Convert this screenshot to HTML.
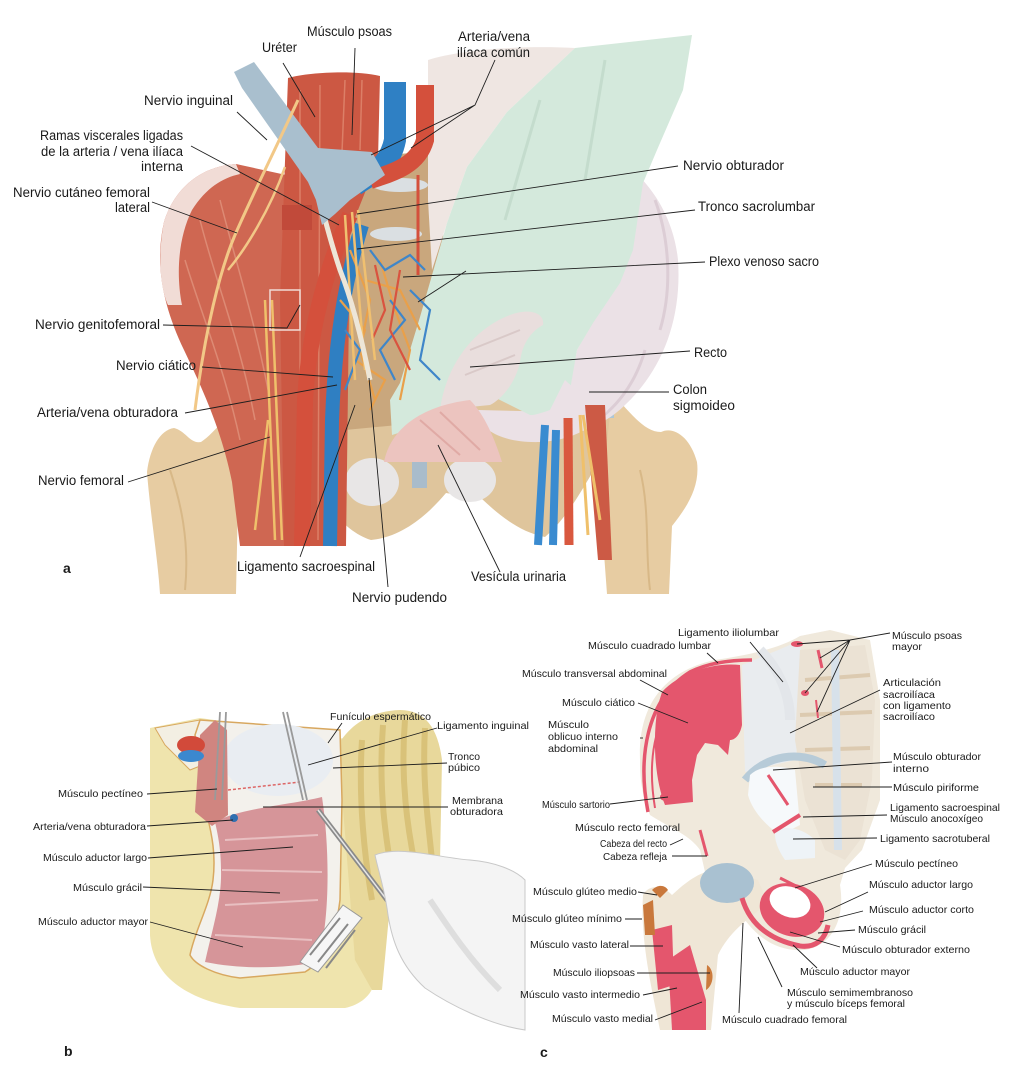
<!DOCTYPE html>
<html><head><meta charset="utf-8">
<style>
html,body{margin:0;padding:0;background:#fff;}
svg{display:block;}
text{font-family:"Liberation Sans",sans-serif;fill:#1a1a1a;}
.a{font-size:13.5px;}
.s{font-size:10.5px;}
.L{stroke:#1e1e1e;stroke-width:0.9;fill:none;}
</style></head><body>
<svg width="1024" height="1092" viewBox="0 0 1024 1092" xmlns="http://www.w3.org/2000/svg">
<rect width="1024" height="1092" fill="#fff"/>

<!-- ================= PANEL A ================= -->
<g>
<!-- femurs -->
<path d="M147,472 C150,448 160,430 174,428 C186,431 190,444 201,442 C216,432 228,412 246,400 L266,426 C252,446 241,470 238,500 L236,594 L160,594 C158,560 150,512 147,472 Z" fill="#e7cca2"/>
<path d="M598,425 L622,404 C636,420 648,432 661,432 C673,426 690,436 697,462 C700,486 688,506 672,526 L669,594 L607,594 L603,540 C600,500 594,460 598,425 Z" fill="#e7cca2"/>
<path d="M170,470 C180,500 190,540 185,590" stroke="#d8b887" stroke-width="2" fill="none"/>
<path d="M640,470 C650,510 645,550 650,590" stroke="#d8b887" stroke-width="2" fill="none"/>
<!-- pelvis -->
<path d="M300,392 L612,395 L606,452 C590,472 574,512 545,537 C520,532 500,516 482,499 L446,493 C430,512 404,537 371,540 C345,532 320,502 305,462 Z" fill="#dfc59c"/>
<ellipse cx="372" cy="482" rx="27" ry="24" fill="#e8e6e6"/>
<ellipse cx="470" cy="480" rx="26" ry="22" fill="#e8e6e6"/>
<rect x="412" y="458" width="15" height="30" fill="#a9bccb"/>
<!-- sacrum region -->
<path d="M340,160 L440,150 L450,420 L345,430 Z" fill="#c9a77d"/>
<ellipse cx="400" cy="185" rx="28" ry="7" fill="#dadfe2"/>
<ellipse cx="396" cy="234" rx="26" ry="7" fill="#dadfe2"/>
<!-- capsules -->
<rect x="228" y="392" width="18" height="16" fill="#aec7d6"/>
<rect x="597" y="398" width="17" height="20" fill="#aec7d6"/>
<!-- left iliacus -->
<path d="M236,164 C205,166 176,184 164,222 C154,266 164,308 184,350 C204,392 222,432 232,482 L240,546 L300,546 L300,178 Z" fill="#cf6752"/>
<path d="M236,164 C205,166 176,184 164,222 C157,258 161,290 168,305 L182,305 C176,275 178,238 192,210 C206,188 222,178 240,174 Z" fill="#f1dcd6"/>
<path d="M200,220 C215,280 240,340 255,420 M220,200 C235,260 255,320 270,400 M185,260 C200,310 225,370 240,440" stroke="#dd8a74" stroke-width="1.5" fill="none"/>
<!-- psoas -->
<path d="M288,78 C310,72 355,70 380,76 L378,160 L350,230 L346,546 L284,546 L280,300 Z" fill="#cc5843"/>
<path d="M300,90 L300,540 M320,85 L318,540 M345,80 L340,200 M362,80 L360,150" stroke="#dc7f67" stroke-width="1.5" fill="none"/>
<!-- whitish tissue top -->
<path d="M428,60 C460,50 520,45 575,48 L507,112 L467,167 L447,223 L432,270 L428,200 Z" fill="#efe6e2"/>
<!-- colon (back part) -->
<path d="M600,150 C630,160 672,200 678,260 C682,320 662,370 625,405 C600,430 560,442 520,440 C495,438 480,425 478,410 L565,412 L577,350 L600,310 L625,270 L635,220 Z" fill="#ebe1e6"/>
<path d="M655,200 C670,240 672,290 660,330 M645,350 C635,385 615,410 590,425" stroke="#dccdd5" stroke-width="3" fill="none"/>
<!-- glove -->
<path d="M507,112 L575,48 L692,35 L683,90 L657,150 L643,183 L633,250 L620,283 L593,323 L577,350 L570,390 L565,415 L530,415 L490,395 L470,410 L440,420 L392,435 L390,400 L400,383 L420,317 L447,223 L467,167 Z" fill="#d4e9dc"/>
<path d="M605,60 L585,180 M540,100 L505,220" stroke="#c4dccd" stroke-width="3" fill="none"/>
<!-- rectum -->
<path d="M440,410 C445,370 470,330 510,315 C528,308 545,312 543,325 C530,332 522,345 520,362 C515,385 500,400 490,405 Z" fill="#e9dedd"/>
<path d="M470,350 L520,330 M465,375 L515,355" stroke="#d9c9c8" stroke-width="2" fill="none"/>
<!-- colon bottom curl -->
<path d="M565,380 C580,395 600,400 615,398 C605,420 580,440 540,442 C505,443 485,432 478,418 C500,420 530,418 550,410 Z" fill="#ebe1e6"/>
<!-- bladder -->
<path d="M384,462 C390,430 420,406 470,400 C485,415 495,440 502,462 Z" fill="#ecc4bf"/>
<path d="M420,420 L460,455 M440,412 L480,450" stroke="#e0aaa5" stroke-width="2" fill="none"/>
<!-- vessels left -->
<path d="M350,215 C330,260 310,320 305,400 L302,546" stroke="#d4503c" stroke-width="16" fill="none"/>
<path d="M362,225 C345,280 335,340 332,420 L330,546" stroke="#2f7fc2" stroke-width="14" fill="none"/>
<path d="M395,82 L395,140 C390,165 375,172 355,185" stroke="#2f80c4" stroke-width="22" fill="none"/>
<path d="M425,85 L425,140 C418,165 395,172 370,180" stroke="#d4503c" stroke-width="18" fill="none"/>
<path d="M418,175 L418,275" stroke="#d4503c" stroke-width="3" fill="none"/>
<!-- network -->
<g fill="none" stroke-width="2.2">
<path d="M350,250 L370,300 L360,350 L375,400 M380,260 L395,310 L410,350 L400,400 M365,280 L400,290 L420,330 M340,300 L365,330 L350,380 M355,360 L385,380 L370,410" stroke="#e9a04a"/>
<path d="M370,250 L385,270 L410,255 L425,270 M390,300 L405,320 L380,350 L395,380 M410,290 L430,310 L420,360 L440,380 M345,330 L360,350 L345,390" stroke="#3f86c9"/>
<path d="M375,265 L385,310 L372,340 M400,270 L390,330 L410,370" stroke="#d9533f"/>
</g>
<path d="M345,215 L355,380 M352,212 L365,370 M358,210 L375,360" stroke="#f0c070" stroke-width="2.5" fill="none"/>
<path d="M312,167 C322,210 330,240 340,270 C352,300 362,340 370,380" stroke="#ede6d8" stroke-width="5" fill="none"/>
<!-- retractor -->
<path d="M234,72 L254,62 L318,148 L372,152 L385,175 L350,200 L335,214 L322,225 L316,200 L308,182 L242,88 Z" fill="#a9bfce"/>
<!-- nerves -->
<path d="M298,100 C275,150 250,200 235,235 C220,270 205,330 195,410" stroke="#f2c887" stroke-width="3" fill="none"/>
<path d="M285,167 C270,210 245,250 228,270" stroke="#f2c887" stroke-width="2.5" fill="none"/>
<path d="M265,300 L275,540 M272,300 L282,540 M268,420 L255,530" stroke="#efc06b" stroke-width="2.5" fill="none"/>
<!-- right side vessels -->
<path d="M585,405 L605,405 L612,560 L598,560 Z" fill="#cc5a45"/>
<path d="M545,425 L538,545 M556,430 L553,545" stroke="#3a8bd0" stroke-width="8" fill="none"/>
<path d="M568,418 L569,545" stroke="#d9583f" stroke-width="9" fill="none"/>
<path d="M580,415 L588,535 M583,415 L600,520" stroke="#efc06b" stroke-width="3" fill="none"/>
<rect x="270" y="290" width="30" height="40" fill="none" stroke="#f1dcd6" stroke-width="1.5"/>
<rect x="282" y="205" width="30" height="25" fill="#c14a3a"/>
</g>

<!-- panel a leaders -->
<g class="L">
<path d="M283,63 L315,117"/>
<path d="M355,48 L352,135"/>
<path d="M495,60 L475,105 L371,155 M475,105 L411,148"/>
<path d="M237,112 L267,140"/>
<path d="M191,146 L339,225"/>
<path d="M152,202 L237,233"/>
<path d="M678,166 L357,214"/>
<path d="M695,210 L357,249"/>
<path d="M705,262 L403,277 M466,271 L418,302"/>
<path d="M163,325 L287,328 L300,305"/>
<path d="M202,367 L333,377"/>
<path d="M185,413 L337,385"/>
<path d="M128,482 L270,437"/>
<path d="M300,557 L355,405"/>
<path d="M388,587 L369,378"/>
<path d="M500,572 L438,445"/>
<path d="M690,351 L470,367"/>
<path d="M669,392 L589,392"/>
</g>
<g class="a">
<text x="307" y="36" textLength="85" lengthAdjust="spacingAndGlyphs">Músculo psoas</text>
<text x="262" y="52" textLength="35" lengthAdjust="spacingAndGlyphs">Uréter</text>
<text x="458" y="41" textLength="72" lengthAdjust="spacingAndGlyphs">Arteria/vena</text>
<text x="457" y="57" textLength="73" lengthAdjust="spacingAndGlyphs">ilíaca común</text>
<text x="144" y="105" textLength="89" lengthAdjust="spacingAndGlyphs">Nervio inguinal</text>
<text x="40" y="140" textLength="143" lengthAdjust="spacingAndGlyphs">Ramas viscerales ligadas</text>
<text x="41" y="156" textLength="142" lengthAdjust="spacingAndGlyphs">de la arteria / vena ilíaca</text>
<text x="141" y="171" textLength="42" lengthAdjust="spacingAndGlyphs">interna</text>
<text x="13" y="197" textLength="137" lengthAdjust="spacingAndGlyphs">Nervio cutáneo femoral</text>
<text x="115" y="212" textLength="35" lengthAdjust="spacingAndGlyphs">lateral</text>
<text x="683" y="170" textLength="101" lengthAdjust="spacingAndGlyphs">Nervio obturador</text>
<text x="698" y="211" textLength="117" lengthAdjust="spacingAndGlyphs">Tronco sacrolumbar</text>
<text x="709" y="266" textLength="110" lengthAdjust="spacingAndGlyphs">Plexo venoso sacro</text>
<text x="35" y="329" textLength="125" lengthAdjust="spacingAndGlyphs">Nervio genitofemoral</text>
<text x="116" y="370" textLength="80" lengthAdjust="spacingAndGlyphs">Nervio ciático</text>
<text x="37" y="417" textLength="141" lengthAdjust="spacingAndGlyphs">Arteria/vena obturadora</text>
<text x="38" y="485" textLength="86" lengthAdjust="spacingAndGlyphs">Nervio femoral</text>
<text x="237" y="571" textLength="138" lengthAdjust="spacingAndGlyphs">Ligamento sacroespinal</text>
<text x="352" y="602" textLength="95" lengthAdjust="spacingAndGlyphs">Nervio pudendo</text>
<text x="471" y="581" textLength="95" lengthAdjust="spacingAndGlyphs">Vesícula urinaria</text>
<text x="694" y="357" textLength="33" lengthAdjust="spacingAndGlyphs">Recto</text>
<text x="673" y="394" textLength="34" lengthAdjust="spacingAndGlyphs">Colon</text>
<text x="673" y="410" textLength="62" lengthAdjust="spacingAndGlyphs">sigmoideo</text>
</g>
<text x="63" y="573" style="font-size:14px;font-weight:bold">a</text>

<!-- ================= PANEL B ================= -->
<g>
<path d="M150,728 L150,935 C152,975 185,1000 240,1008 L345,1008 C360,1005 372,995 374,983 L372,745 L340,738 L250,725 L200,718 Z" fill="#efe4ad"/>
<path d="M338,745 C350,725 370,711 400,710 C425,710 438,728 442,760 L440,862 L415,870 L390,905 L382,990 L372,990 L355,960 Z" fill="#e8d89b"/>
<path d="M362,740 C358,800 365,860 372,900 M383,725 C378,790 386,840 393,880 M405,720 C400,780 408,830 415,865 M425,728 C422,780 428,820 432,860" stroke="#d9c279" stroke-width="6" fill="none"/>
<path d="M155,728 L200,720 L210,735 L215,760 L190,770 L165,745 Z" fill="#f3efe3" stroke="#d8a860"/>
<path d="M200,720 L340,730 L342,800 L340,900 C335,940 325,960 305,972 L240,978 C215,975 195,965 190,955 C195,930 210,905 213,880 C216,855 212,835 207,815 L195,735 Z" fill="#f3f1ec" stroke="#d8a860" stroke-width="1.5"/>
<ellipse cx="278" cy="760" rx="55" ry="36" fill="#e9edf2"/>
<path d="M215,822 C240,808 290,805 322,797 C330,850 330,920 318,962 C285,968 245,970 205,962 C212,930 222,900 221,870 C221,850 218,835 215,822 Z" fill="#d69599"/>
<path d="M225,840 L318,835 M222,870 L322,872 M225,905 L318,900 M215,935 L312,940" stroke="#e8bfc1" stroke-width="2" fill="none"/>
<path d="M228,790 L300,782" stroke="#d66" stroke-width="1.5" stroke-dasharray="3,2" fill="none"/>
<path d="M195,812 L200,735 L215,720 L227,730 L228,815 L212,826 Z" fill="#d08580"/>
<ellipse cx="191" cy="745" rx="14" ry="9" fill="#d24a3a"/>
<ellipse cx="191" cy="756" rx="13" ry="6" fill="#3b88cf"/>
<circle cx="234" cy="818" r="4" fill="#2f6fb0"/>
<path d="M220,712 L215,800 M226,712 L222,800 M283,712 L303,800 M287,712 L307,800" stroke="#9a9a9a" stroke-width="1.8" fill="none"/>
<path d="M318,810 L400,917" stroke="#8a8a8a" stroke-width="5" fill="none"/>
<path d="M318,810 L400,917" stroke="#e6e6e6" stroke-width="1.5" fill="none"/>
<path d="M375,855 C400,845 440,858 470,860 C495,862 515,870 525,880 L525,1030 C490,1025 450,1005 425,988 C400,965 392,940 388,915 C385,890 378,870 375,855 Z" fill="#f4f4f4" stroke="#c8c8c8"/>
<path d="M430,900 C450,930 470,960 500,990" stroke="#dedede" stroke-width="6" fill="none"/>
<path d="M300,962 L343,905 L362,918 L318,972 Z" fill="#f6f6f6" stroke="#999"/>
<path d="M310,955 L340,918 M318,962 L348,924 M326,968 L355,930" stroke="#888" stroke-width="2"/>
</g>
<g class="L">
<path d="M342,723 L328,743"/>
<path d="M437,728 L308,765"/>
<path d="M447,763 L333,768"/>
<path d="M448,807 L263,807"/>
<path d="M147,794 L217,789"/>
<path d="M147,826 L233,820"/>
<path d="M148,858 L293,847"/>
<path d="M143,887 L280,893"/>
<path d="M150,922 L243,947"/>
</g>
<g class="s">
<text x="330" y="720" textLength="101" lengthAdjust="spacingAndGlyphs">Funículo espermático</text>
<text x="437" y="729" textLength="92" lengthAdjust="spacingAndGlyphs">Ligamento inguinal</text>
<text x="448" y="760" textLength="32" lengthAdjust="spacingAndGlyphs">Tronco</text>
<text x="448" y="771" textLength="32" lengthAdjust="spacingAndGlyphs">púbico</text>
<text x="452" y="804" textLength="51" lengthAdjust="spacingAndGlyphs">Membrana</text>
<text x="450" y="815" textLength="53" lengthAdjust="spacingAndGlyphs">obturadora</text>
<text x="58" y="797" textLength="85" lengthAdjust="spacingAndGlyphs">Músculo pectíneo</text>
<text x="33" y="830" textLength="113" lengthAdjust="spacingAndGlyphs">Arteria/vena obturadora</text>
<text x="43" y="861" textLength="104" lengthAdjust="spacingAndGlyphs">Músculo aductor largo</text>
<text x="73" y="891" textLength="69" lengthAdjust="spacingAndGlyphs">Músculo grácil</text>
<text x="38" y="925" textLength="110" lengthAdjust="spacingAndGlyphs">Músculo aductor mayor</text>
</g>
<text x="64" y="1056" style="font-size:14px;font-weight:bold">b</text>

<!-- ================= PANEL C ================= -->
<g>
<path d="M640,760 C638,710 660,672 715,660 C750,655 780,648 800,636 L830,630 L870,640 L880,700 L880,800 L862,850 L845,868 L840,885 C845,915 835,945 805,950 C780,952 760,940 745,920 C735,905 720,885 705,872 L700,850 C690,835 670,828 650,815 C642,795 640,780 640,760 Z" fill="#f0e9dc"/>
<path d="M742,665 C765,655 785,648 800,640 L805,700 L795,760 L745,772 Z" fill="#e9ecef"/>
<path d="M800,650 L865,645 L875,700 L872,780 L860,840 L845,860 L825,850 L805,800 L795,740 Z" fill="#ebe2d4"/>
<path d="M805,680 L870,675 M800,715 L872,712 M805,750 L870,748 M815,785 L862,785" stroke="#dccab0" stroke-width="4" fill="none"/>
<path d="M835,650 L838,850" stroke="#d7e1ea" stroke-width="8" fill="none"/>
<path d="M745,780 C765,755 800,750 825,765" stroke="#b7cbd8" stroke-width="8" fill="none"/>
<path d="M750,775 C760,765 780,765 795,770 L800,825 L780,835 C765,825 752,810 748,795 Z" fill="#f6f9fb"/>
<path d="M775,830 C790,825 805,830 815,840 L815,858 L785,860 C778,850 774,840 775,830 Z" fill="#eef3f7"/>
<path d="M760,650 C775,665 790,690 790,720" stroke="#e3e6ea" stroke-width="10" fill="none"/>
<path d="M662,692 C680,672 715,662 740,665 L742,725 C740,735 735,740 730,740 L728,755 L718,745 L705,743 L697,755 L692,780 L693,802 L665,805 C655,780 652,740 658,705 Z" fill="#e4566d"/>
<path d="M648,812 C638,760 645,700 690,672 C710,662 735,660 752,660" stroke="#e4566d" stroke-width="3.5" fill="none"/>
<path d="M655,808 C647,760 653,708 694,680" stroke="#e4566d" stroke-width="2" fill="none"/>
<ellipse cx="666" cy="797" rx="6" ry="4" fill="#e4566d"/>
<path d="M700,830 L707,856" stroke="#e4566d" stroke-width="3" fill="none"/>
<path d="M643,895 C648,885 662,884 672,895 C688,880 705,868 722,870 L758,880 L768,903 C750,918 730,930 718,955 L711,1030 L660,1030 C652,990 640,940 643,895 Z" fill="#efe6d6"/>
<ellipse cx="727" cy="883" rx="27" ry="20" fill="#a9c1d1"/>
<path d="M652,930 L672,925 L674,985 L658,990 Z" fill="#e4566d"/>
<path d="M668,960 L690,945 L706,1000 L706,1030 L672,1030 Z" fill="#e4566d"/>
<path d="M643,905 L653,900 L655,935 L645,935 Z" fill="#c9783c"/>
<path d="M652,890 C658,884 665,885 668,890 L660,898 Z" fill="#c9783c"/>
<path d="M707,965 C715,970 714,985 706,990 Z" fill="#cc7b3d"/>
<ellipse cx="792" cy="910" rx="33" ry="26" fill="#e4566d" transform="rotate(20 792 910)"/>
<ellipse cx="790" cy="902" rx="21" ry="15" fill="#fff" transform="rotate(20 790 902)"/>
<path d="M742,898 C750,925 770,940 800,946 C815,948 825,940 828,925" stroke="#e4566d" stroke-width="5" fill="none"/>
<path d="M780,878 L800,888" stroke="#e4566d" stroke-width="3" fill="none"/>
<path d="M768,775 L788,805" stroke="#e4566d" stroke-width="3" fill="none"/>
<path d="M773,832 L800,815" stroke="#e4566d" stroke-width="4" fill="none"/>
<ellipse cx="797" cy="644" rx="6" ry="3" fill="#e4566d"/>
<path d="M818,650 L822,668" stroke="#e4566d" stroke-width="3"/>
<ellipse cx="805" cy="693" rx="4" ry="3" fill="#e4566d"/>
<path d="M816,700 L818,718" stroke="#e4566d" stroke-width="2"/>
</g>
<g class="L">
<path d="M750,642 L783,682"/>
<path d="M707,653 L718,663"/>
<path d="M640,680 L668,695"/>
<path d="M638,703 L688,723"/>
<path d="M640,738 L643,738"/>
<path d="M890,633 L850,640 L797,644 M850,640 L820,658 M850,640 L805,693 M850,640 L817,712"/>
<path d="M880,690 L790,733"/>
<path d="M892,762 L773,770"/>
<path d="M892,787 L813,787"/>
<path d="M887,815 L803,817"/>
<path d="M877,838 L793,839"/>
<path d="M610,804 L668,797"/>
<path d="M670,845 L683,839"/>
<path d="M672,856 L707,856"/>
<path d="M872,864 L795,888"/>
<path d="M868,892 L825,912"/>
<path d="M863,911 L820,922"/>
<path d="M855,930 L818,933"/>
<path d="M840,947 L790,932"/>
<path d="M817,968 L793,945"/>
<path d="M782,987 L758,937"/>
<path d="M739,1013 L743,923"/>
<path d="M638,892 L657,895"/>
<path d="M625,919 L642,919"/>
<path d="M630,946 L663,946"/>
<path d="M637,973 L710,973"/>
<path d="M643,995 L677,988"/>
<path d="M655,1020 L702,1002"/>
</g>
<g class="s">
<text x="678" y="636" textLength="101" lengthAdjust="spacingAndGlyphs">Ligamento iliolumbar</text>
<text x="588" y="649" textLength="123" lengthAdjust="spacingAndGlyphs">Músculo cuadrado lumbar</text>
<text x="522" y="677" textLength="145" lengthAdjust="spacingAndGlyphs">Músculo transversal abdominal</text>
<text x="562" y="706" textLength="73" lengthAdjust="spacingAndGlyphs">Músculo ciático</text>
<text x="548" y="728" textLength="41" lengthAdjust="spacingAndGlyphs">Músculo</text>
<text x="548" y="740" textLength="70" lengthAdjust="spacingAndGlyphs">oblicuo interno</text>
<text x="548" y="752" textLength="50" lengthAdjust="spacingAndGlyphs">abdominal</text>
<text x="892" y="639" textLength="70" lengthAdjust="spacingAndGlyphs">Músculo psoas</text>
<text x="892" y="650" textLength="30" lengthAdjust="spacingAndGlyphs">mayor</text>
<text x="883" y="686" textLength="58" lengthAdjust="spacingAndGlyphs">Articulación</text>
<text x="883" y="698" textLength="52" lengthAdjust="spacingAndGlyphs">sacroilíaca</text>
<text x="883" y="709" textLength="68" lengthAdjust="spacingAndGlyphs">con ligamento</text>
<text x="883" y="720" textLength="52" lengthAdjust="spacingAndGlyphs">sacroilíaco</text>
<text x="893" y="760" textLength="88" lengthAdjust="spacingAndGlyphs">Músculo obturador</text>
<text x="893" y="772" textLength="36" lengthAdjust="spacingAndGlyphs">interno</text>
<text x="893" y="791" textLength="86" lengthAdjust="spacingAndGlyphs">Músculo piriforme</text>
<text x="890" y="811" textLength="110" lengthAdjust="spacingAndGlyphs">Ligamento sacroespinal</text>
<text x="890" y="822" textLength="93" lengthAdjust="spacingAndGlyphs">Músculo anocoxígeo</text>
<text x="880" y="842" textLength="110" lengthAdjust="spacingAndGlyphs">Ligamento sacrotuberal</text>
<text x="542" y="808" textLength="68" lengthAdjust="spacingAndGlyphs">Músculo sartorio</text>
<text x="575" y="831" textLength="105" lengthAdjust="spacingAndGlyphs">Músculo recto femoral</text>
<text x="600" y="847" textLength="67" lengthAdjust="spacingAndGlyphs">Cabeza del recto</text>
<text x="603" y="860" textLength="64" lengthAdjust="spacingAndGlyphs">Cabeza refleja</text>
<text x="875" y="867" textLength="83" lengthAdjust="spacingAndGlyphs">Músculo pectíneo</text>
<text x="869" y="888" textLength="104" lengthAdjust="spacingAndGlyphs">Músculo aductor largo</text>
<text x="869" y="913" textLength="105" lengthAdjust="spacingAndGlyphs">Músculo aductor corto</text>
<text x="858" y="933" textLength="68" lengthAdjust="spacingAndGlyphs">Músculo grácil</text>
<text x="842" y="953" textLength="128" lengthAdjust="spacingAndGlyphs">Músculo obturador externo</text>
<text x="800" y="975" textLength="110" lengthAdjust="spacingAndGlyphs">Músculo aductor mayor</text>
<text x="787" y="996" textLength="126" lengthAdjust="spacingAndGlyphs">Músculo semimembranoso</text>
<text x="787" y="1007" textLength="118" lengthAdjust="spacingAndGlyphs">y músculo bíceps femoral</text>
<text x="722" y="1023" textLength="125" lengthAdjust="spacingAndGlyphs">Músculo cuadrado femoral</text>
<text x="533" y="895" textLength="104" lengthAdjust="spacingAndGlyphs">Músculo glúteo medio</text>
<text x="512" y="922" textLength="110" lengthAdjust="spacingAndGlyphs">Músculo glúteo mínimo</text>
<text x="530" y="948" textLength="99" lengthAdjust="spacingAndGlyphs">Músculo vasto lateral</text>
<text x="553" y="976" textLength="82" lengthAdjust="spacingAndGlyphs">Músculo iliopsoas</text>
<text x="520" y="998" textLength="120" lengthAdjust="spacingAndGlyphs">Músculo vasto intermedio</text>
<text x="552" y="1022" textLength="101" lengthAdjust="spacingAndGlyphs">Músculo vasto medial</text>
</g>
<text x="540" y="1057" style="font-size:14px;font-weight:bold">c</text>
</svg>
</body></html>
